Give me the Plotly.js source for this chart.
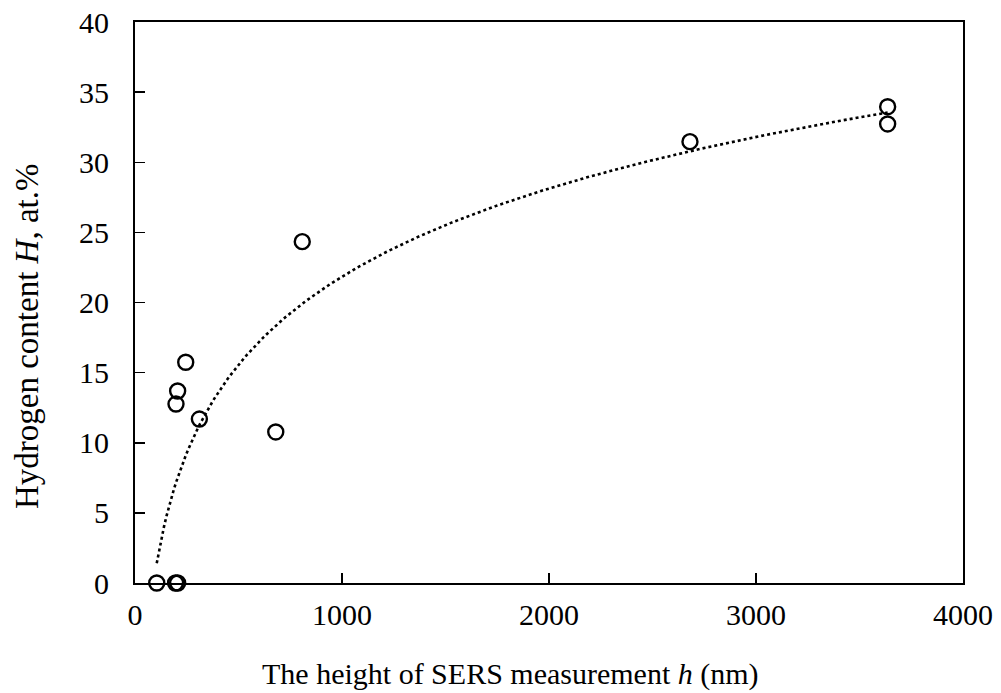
<!DOCTYPE html>
<html>
<head>
<meta charset="utf-8">
<script src="https://cdn.plot.ly/plotly-3.0.1.min.js"></script>
<style>html,body{margin:0;padding:0;background:#fff;}#chart{width:1001px;height:693px;}</style>
</head>
<body>
<div id="chart"></div>
<script>
// Measured data: height of SERS measurement h (nm) vs hydrogen content H (at.%)
const heightNm = [105, 196, 206, 198, 206, 245, 311, 680, 808, 2681, 3636, 3636];
const hydrogenPct = [0, 0, 0, 12.76, 13.69, 15.74, 11.69, 10.77, 24.34, 31.47, 33.96, 32.73];

const xTicks = [0, 1000, 2000, 3000, 4000];
const yTicks = [0, 5, 10, 15, 20, 25, 30, 35, 40];

// Logarithmic least-squares trendline (as in a spreadsheet log fit) computed from the data
function logFit(xs, ys) {
  const lx = xs.map(v => Math.log(v));
  const n = lx.length;
  const mx = lx.reduce((a, b) => a + b, 0) / n;
  const my = ys.reduce((a, b) => a + b, 0) / n;
  let sxy = 0, sxx = 0;
  for (let i = 0; i < n; i++) { sxy += (lx[i] - mx) * (ys[i] - my); sxx += (lx[i] - mx) ** 2; }
  const a = sxy / sxx;
  return { a: a, b: my - a * mx };
}
const fit = logFit(heightNm, hydrogenPct);
const xMin = Math.min(...heightNm), xMax = Math.max(...heightNm);
const trendX = [], trendY = [];
for (let i = 0; i <= 300; i++) {
  const x = xMin + (xMax - xMin) * i / 300;
  trendX.push(x);
  trendY.push(fit.a * Math.log(x) + fit.b);
}

const font = 'Liberation Serif, Times New Roman, serif';

const traces = [
  {
    x: trendX, y: trendY, mode: 'lines', type: 'scatter',
    line: { color: '#000', width: 2.6, dash: 'dot' },
    hoverinfo: 'skip', showlegend: false
  },
  {
    x: heightNm, y: hydrogenPct, mode: 'markers', type: 'scatter',
    marker: { symbol: 'circle-open', size: 15, color: '#000', line: { color: '#000', width: 2.4 } },
    showlegend: false, cliponaxis: false
  }
];

const layout = {
  width: 1001, height: 693,
  margin: { l: 135, r: 38, t: 22, b: 110 },
  paper_bgcolor: '#fff', plot_bgcolor: '#fff',
  font: { family: font, color: '#000', size: 30 },
  showlegend: false,
  xaxis: {
    range: [0, 4000], tickvals: xTicks, ticktext: xTicks.map(String),
    ticks: 'inside', ticklen: 10, tickwidth: 1.5, tickcolor: '#000',
    showline: true, linecolor: '#000', linewidth: 2, mirror: true,
    showgrid: false, zeroline: false,
    tickfont: { family: font, size: 30, color: '#000' },
    ticklabelstandoff: 4
  },
  yaxis: {
    range: [0, 40], tickvals: yTicks, ticktext: yTicks.map(String),
    ticks: 'inside', ticklen: 10, tickwidth: 1.5, tickcolor: '#000',
    showline: true, linecolor: '#000', linewidth: 2, mirror: true,
    showgrid: false, zeroline: false,
    tickfont: { family: font, size: 30, color: '#000' },
    ticklabelstandoff: 18
  },
  annotations: [
    {
      text: 'The height of SERS measurement <i>h</i> (nm)',
      xref: 'paper', yref: 'paper', x: (510 - 135) / 828, y: (583 - 693) / 561,
      xanchor: 'center', yanchor: 'bottom', showarrow: false,
      font: { family: font, size: 30, color: '#000' }
    },
    {
      text: 'Hydrogen content <i>H</i>, at.%',
      xref: 'paper', yref: 'paper', x: (27 - 135) / 828, y: (583 - 336) / 561,
      xanchor: 'center', yanchor: 'middle', textangle: -90, showarrow: false,
      font: { family: font, size: 33, color: '#000' }
    }
  ]
};

Plotly.newPlot('chart', traces, layout, { displayModeBar: false, staticPlot: true });
</script>
</body>
</html>
